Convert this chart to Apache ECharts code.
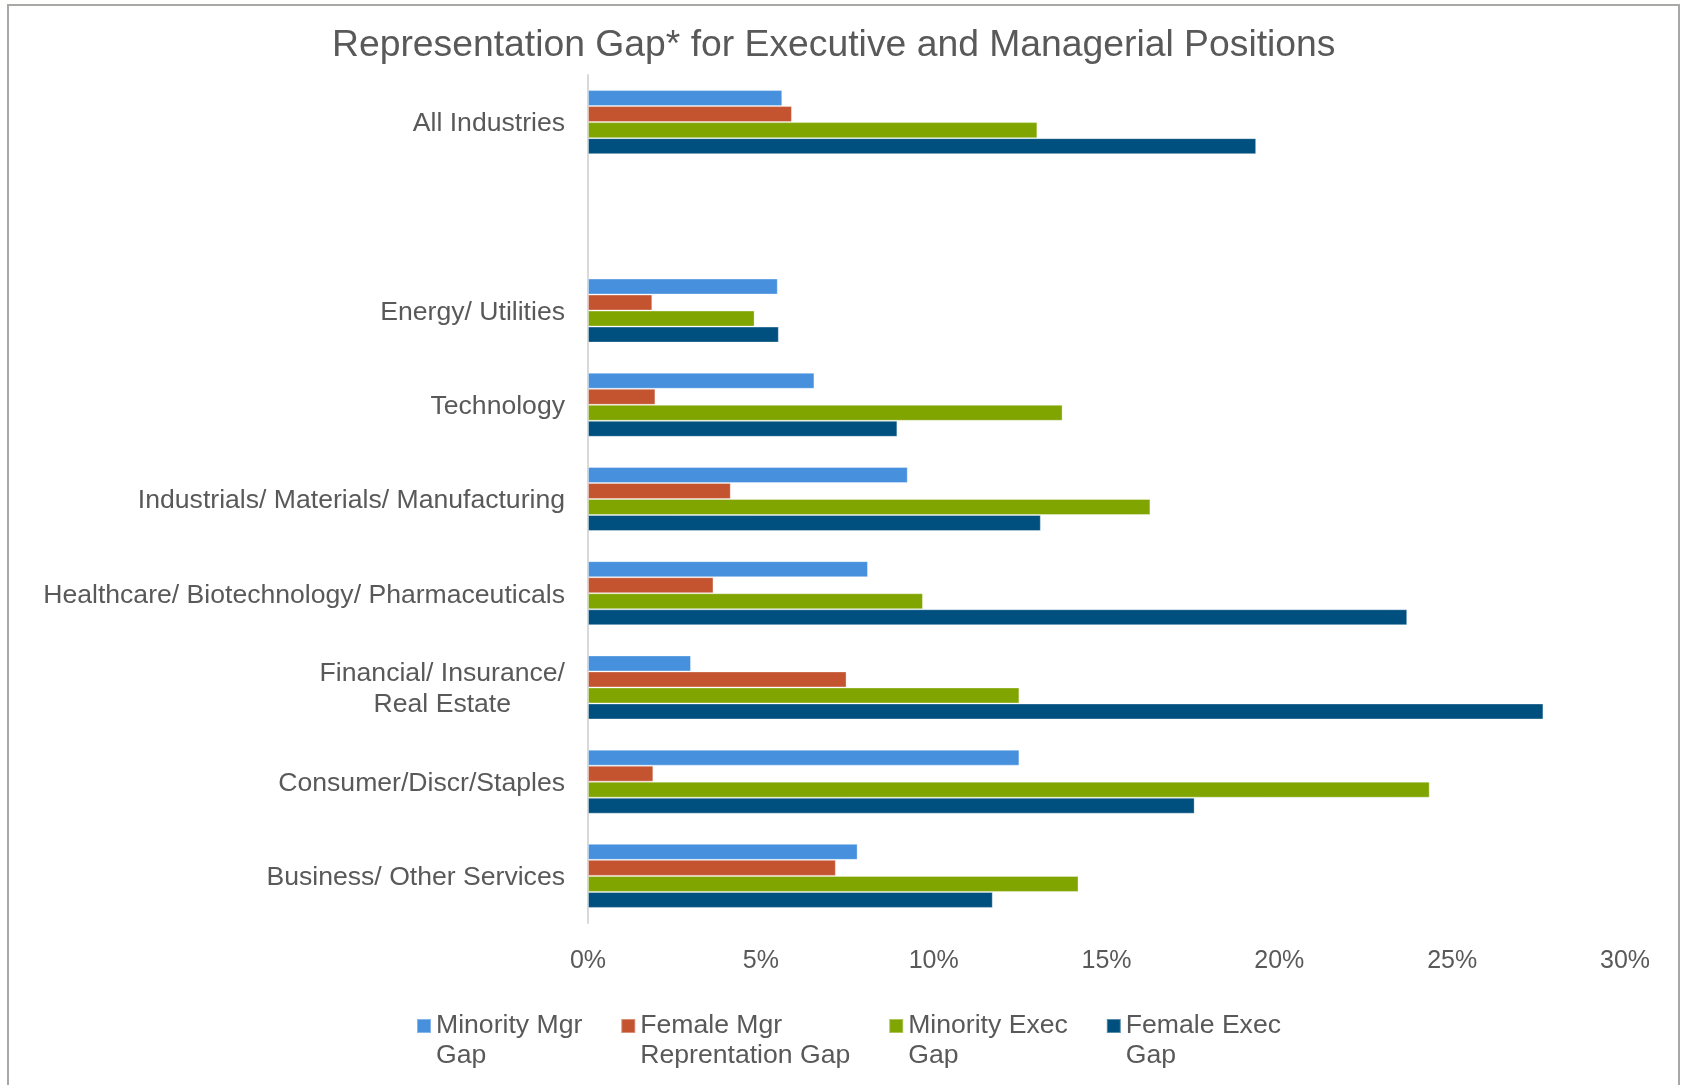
<!DOCTYPE html>
<html>
<head>
<meta charset="utf-8">
<title>Representation Gap</title>
<script src="https://cdn.jsdelivr.net/npm/echarts@6/dist/echarts.min.js"></script>
<style>
  html, body { margin: 0; padding: 0; background: #fff; }
  #chart { width: 1683px; height: 1085px; }
</style>
</head>
<body>
<div id="chart"></div>
<script>
// categories top to bottom (blank slot separates the total row)
var industries = [
  'All Industries',
  '',
  'Energy/ Utilities',
  'Technology',
  'Industrials/ Materials/ Manufacturing',
  'Healthcare/ Biotechnology/ Pharmaceuticals',
  'Financial/ Insurance/\nReal Estate',
  'Consumer/Discr/Staples',
  'Business/ Other Services'
];

// gaps in percent
var minorityMgrGap  = [5.62, null, 5.49, 6.55, 9.25, 8.10, 2.98, 12.48, 7.80];
var femaleMgrGap    = [5.90, null, 1.86, 1.95, 4.13, 3.63, 7.48, 1.89, 7.17];
var minorityExecGap = [13.00, null, 4.82, 13.73, 16.27, 9.69, 12.48, 24.35, 14.19];
var femaleExecGap   = [19.33, null, 5.52, 8.95, 13.10, 23.70, 27.64, 17.55, 11.71];

var seriesNames = ['Minority Mgr\nGap', 'Female Mgr\nReprentation Gap', 'Minority Exec\nGap', 'Female Exec\nGap'];
var seriesColors = ['#4690DE', '#C45330', '#80A500', '#00507F'];
var xTicks = [0, 5, 10, 15, 20, 25, 30];

(function() {
  var ink = '#595959';
  var font = '"Liberation Sans", Arial, sans-serif';
  var chart = echarts.init(document.getElementById('chart'), null, { renderer: 'canvas' });

  function bar(name, values, color) {
    return {
      name: name,
      type: 'bar',
      data: values,
      barGap: '0%',
      barCategoryGap: '32%',
      itemStyle: { color: color, borderColor: 'rgba(255,255,255,0.35)', borderWidth: 1 }
    };
  }

  var option = {
    animation: false,
    backgroundColor: '#fff',
    textStyle: { fontFamily: font },
    title: {
      text: 'Representation Gap* for Executive and Managerial Positions',
      left: 327,
      top: 22,
      textStyle: { color: ink, fontSize: 37.3, fontWeight: 'normal', fontFamily: font }
    },
    graphic: [{
      type: 'rect',
      shape: { x: 8, y: 5, width: 1671, height: 1100 },
      style: { fill: 'none', stroke: '#a8a8a4', lineWidth: 2 },
      silent: true
    }],
    legend: {
      data: seriesNames,
      left: 411,
      top: 986,
      itemWidth: 14,
      itemHeight: 14,
      itemGap: 38,
      icon: 'rect',
      // blank first line pushes the text down so the swatch sits beside its first line
      formatter: function(name) {
        return '{sp| }\n' + name.split('\n').map(function(s) { return '{t|' + s + '}'; }).join('\n');
      },
      textStyle: {
        color: ink,
        fontSize: 26.6,
        fontFamily: font,
        rich: {
          sp: { fontSize: 10, lineHeight: 30 },
          t: { color: ink, fontSize: 26.6, fontFamily: font, lineHeight: 30 }
        }
      }
    },
    grid: { left: 588, right: 58, top: 75, bottom: 162, containLabel: false },
    xAxis: {
      type: 'value',
      min: xTicks[0],
      max: xTicks[xTicks.length - 1],
      interval: 5,
      axisLine: { show: false },
      axisTick: { show: false },
      splitLine: { show: false },
      axisLabel: {
        color: ink,
        fontSize: 25,
        fontFamily: font,
        margin: 26,
        formatter: '{value}%'
      }
    },
    yAxis: {
      type: 'category',
      data: industries,
      inverse: true,
      axisLine: { show: true, lineStyle: { color: '#d9d9d9', width: 2 } },
      axisTick: { show: false },
      axisLabel: {
        margin: 23,
        formatter: function(v) {
          return v.split('\n').map(function(s) { return '{c|' + s + '}'; }).join('\n');
        },
        rich: {
          c: { color: ink, fontSize: 26.6, fontFamily: font, lineHeight: 31, align: 'center', padding: [4, 0, 0, 0] }
        }
      }
    },
    series: [
      bar(seriesNames[0], minorityMgrGap, seriesColors[0]),
      bar(seriesNames[1], femaleMgrGap, seriesColors[1]),
      bar(seriesNames[2], minorityExecGap, seriesColors[2]),
      bar(seriesNames[3], femaleExecGap, seriesColors[3])
    ]
  };

  chart.setOption(option);
  window.addEventListener('resize', function() { chart.resize(); });
})();
</script>
</body>
</html>
